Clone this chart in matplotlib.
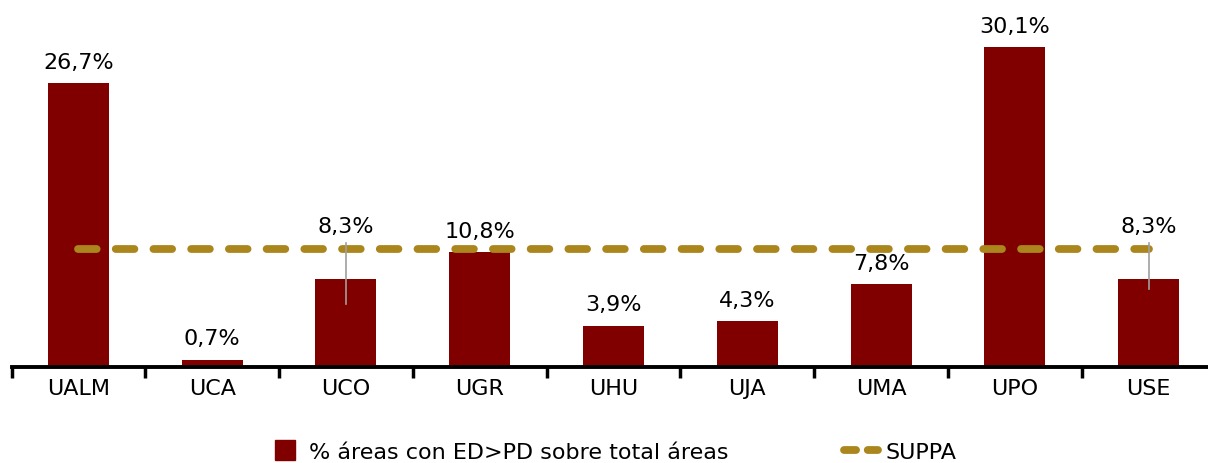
import numpy as np
import matplotlib.pyplot as plt
from matplotlib.lines import Line2D

universidades = ['UALM', 'UCA', 'UCO', 'UGR', 'UHU', 'UJA', 'UMA', 'UPO', 'USE']
porcentaje = [26.7, 0.7, 8.3, 10.8, 3.9, 4.3, 7.8, 30.1, 8.3]
suppa = [11.1] * len(universidades)

rojo = '#800000'
oro = '#AA861C'
fs = 16

plt.rcParams['font.family'] = ['DejaVu Sans']

fig = plt.figure(figsize=(12.08, 4.64), dpi=100)
ax = fig.add_axes([11.6 / 1208, 96 / 464, 1203.8 / 1208, 368 / 464])

x = np.arange(len(universidades))
ax.bar(x, porcentaje, width=0.456, color=rojo, zorder=2)
ax.plot(x, suppa, color=oro, lw=5.6, dashes=(2.4, 2.45),
        dash_capstyle='round', zorder=3)

# etiquetas; UCO y USE van desplazadas con linea guia
for i, v in enumerate(porcentaje):
    txt = f'{v:.1f}%'.replace('.', ',')
    if universidades[i] in ('UCO', 'USE'):
        ax.text(i, v + 5.0, txt, ha='center', va='center', fontsize=fs, zorder=4)
        ax.plot([i, i], [v + 3.4, v - 2.4 if universidades[i] == 'UCO' else v - 1.0],
                color='#A0A0A0', lw=1.2, zorder=4)
    else:
        ax.text(i, v + 2.0, txt, ha='center', va='center', fontsize=fs, zorder=4)

ax.set_xlim(-0.5, len(universidades) - 0.5)
ax.set_ylim(0, 34.6)
ax.set_xticks(x)
ax.set_xticklabels(universidades, fontsize=fs)
ax.set_xticks(np.arange(-0.5, len(universidades)), minor=True)
ax.tick_params(axis='x', which='major', length=0, pad=8)
ax.tick_params(axis='x', which='minor', length=8, width=2.5, color='black')
ax.set_yticks([])
for s in ['top', 'right', 'left']:
    ax.spines[s].set_visible(False)
ax.spines['bottom'].set_linewidth(2.8)
ax.spines['bottom'].set_bounds(-0.5, len(universidades) - 0.5)
ax.spines['bottom'].set_zorder(5)

handles = [Line2D([], [], ls='none', marker='s', markersize=15, color=rojo),
           Line2D([], [], color=oro, lw=5.6, dashes=(1.55, 1.5),
                  dash_capstyle='round')]
fig.legend(handles, ['% áreas con ED>PD sobre total áreas', 'SUPPA'],
           loc='center', bbox_to_anchor=(0.507, 0.024), ncol=2, frameon=False,
           fontsize=fs, handlelength=1.5, columnspacing=5.2,
           handletextpad=0.35)

fig.savefig('out.png', dpi=100)
